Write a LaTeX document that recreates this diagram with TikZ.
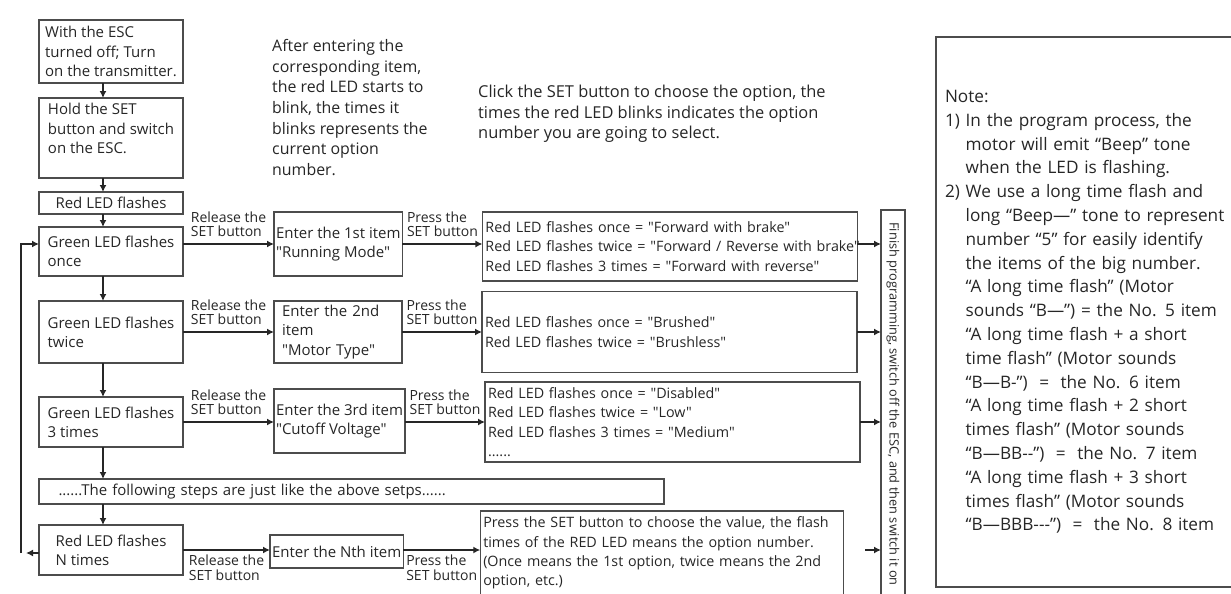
\documentclass[tikz,border=0pt]{standalone}
\usepackage{fontspec}
\setmainfont{Open Sans}
\newfontfamily\sansfam{Open Sans}
\usepackage{tikz}
\usetikzlibrary{positioning}
\usetikzlibrary{arrows.meta}
\newcommand\boxfont{\sansfam\fontsize{15}{19.3}\selectfont}
\newcommand\optfont{\sansfam\fontsize{14.3}{19.3}\selectfont}
\newcommand\arrfont{\sansfam\fontsize{14}{14.5}\selectfont}
\newcommand\topfont{\sansfam\fontsize{15.9}{20.7}\selectfont}
\newcommand\clickfont{\sansfam\fontsize{16.4}{20.5}\selectfont}
\newcommand\finfont{\sansfam\fontsize{12.8}{14}\selectfont}
\newcommand\notefont{\sansfam\fontsize{17.2}{23.8}\selectfont}
\tikzstyle{stepbox}=[draw=black!70,line width=1.2pt,outer sep=0pt,rectangle,align=left,minimum width=144pt,inner ysep=2pt,font=\boxfont]
\tikzstyle{itembox}=[draw=black!70,line width=1.2pt,outer sep=0pt,rectangle,align=left,minimum width=128pt,inner ysep=2pt,inner xsep=2pt,font=\boxfont]
\tikzstyle{optbox}=[draw=black!70,line width=1.2pt,outer sep=0pt,rectangle,align=left,text width=369pt,inner xsep=3pt,inner ysep=2pt,font=\optfont]
\tikzstyle{flow}=[->,>={Latex[length=7pt,width=7pt]},line width=2.4pt,draw=black!85]
\tikzstyle{lbl}=[font=\arrfont,align=left,inner sep=2pt]

\begin{document}
\begin{tikzpicture}[x=1pt,y=-1pt,text=black!85]
	\useasboundingbox (0,0) rectangle (1231,594);
	\node[stepbox,minimum height=63pt,anchor=north west] (start) at (39,20) {With the ESC\\turned off; Turn\\on the transmitter.};
	\node[stepbox,minimum height=80pt,below=15pt of start] (hold) {Hold the SET\\button and switch\\on the ESC.\\~};
	\node[stepbox,minimum height=22pt,inner ysep=0pt,below=14pt of hold] (redled) {Red LED flashes};
	\node[stepbox,minimum height=49pt,below=13pt of redled] (green1) {Green LED flashes\\once};
	\node[stepbox,minimum height=62pt,below=25pt of green1] (green2) {Green LED flashes\\twice};
	\node[stepbox,minimum height=50pt,below=34pt of green2] (green3) {Green LED flashes\\3 times};
	\node[stepbox,text width=586pt,inner xsep=19.5pt,minimum height=25pt,inner ysep=0pt,below right=32pt and 0pt of green3.south west] (following) {......The following steps are just like the above setps......};
	\node[stepbox,minimum height=50pt,below right=21pt and 0pt of following.south west] (redN) {Red LED flashes\\N times};
	
	\node[itembox,minimum height=64pt,right=91pt of green1,yshift=7.5pt] (item1) {Enter the 1st item\\"Running Mode"};
	\node[optbox,minimum height=69pt,right=80pt of item1,yshift=-2.5pt] (opt1) {Red LED flashes once = "Forward with brake"\\\mbox{Red LED flashes twice = "Forward / Reverse with brake"}\\Red LED flashes 3 times = "Forward with reverse"};
	\node[itembox,text width=112pt,inner xsep=8pt,minimum height=62pt,right=91pt of green2] (item2) {Enter the 2nd\\item\\"Motor Type"};
	\node[optbox,minimum height=81pt,right=80pt of item2] (opt2) {Red LED flashes once = "Brushed"\\Red LED flashes twice = "Brushless"};
	\node[itembox,minimum height=64pt,right=91pt of green3,yshift=1pt] (item3) {Enter the 3rd item\\"Cutoff Voltage"};
	\node[optbox,minimum height=80pt,right=80pt of item3,yshift=-1pt] (opt3) {Red LED flashes once = "Disabled"\\Red LED flashes twice = "Low"\\Red LED flashes 3 times = "Medium"\\......};
	\node[itembox,minimum height=33pt,right=87pt of redN,yshift=-1.5pt] (itemN) {Enter the Nth item};
	\node[optbox,text width=357pt,inner xsep=3pt,minimum height=84pt,right=77pt of itemN,yshift=-1.5pt] (optN) {\mbox{Press the SET button to choose the value, the flash}\\times of the RED LED means the option number.\\\mbox{(Once means the 1st option, twice means the 2nd}\\option, etc.)};
	\node[draw=black!70,line width=1.2pt,outer sep=0pt,rotate=-90,minimum width=388pt,minimum height=24pt,inner sep=0pt,font=\finfont] (finish) at (893,404) {Finish programming, switch off the ESC, and then switch it on};
	
	\node[align=left,anchor=north west,inner sep=0pt,font=\topfont] (hint) at (272,39) {After entering the\\corresponding item,\\the red LED starts to\\blink, the times it\\blinks represents the\\current option\\number.};
	\node[align=left,anchor=north west,inner sep=0pt,font=\clickfont] (click) at (478,85) {Click the SET button to choose the option, the\\times the red LED blinks indicates the option\\number you are going to select.};
	\node[draw=black!70,line width=1.2pt,outer sep=0pt,anchor=north west,text width=290pt,inner xsep=9pt,minimum height=550pt,align=left,font=\notefont] (note) at (936,37) {Note:\\1) In the program process, the\\\phantom{1)~}motor will emit “Beep” tone\\\phantom{1)~}when the LED is flashing.\\2) We use a long time flash and\\\phantom{2)~}long “Beep—” tone to represent\\\phantom{2)~}number “5” for easily identify\\\phantom{2)~}the items of the big number.\\\phantom{2)~}“A long time flash” (Motor\\\phantom{2)~}sounds “B—”) = the No. 5 item\\\phantom{2)~}“A long time flash + a short\\\phantom{2)~}time flash” (Motor sounds\\\phantom{2)~}“B—B-”) \ = \ the No. 6 item\\\phantom{2)~}“A long time flash + 2 short\\\phantom{2)~}times flash” (Motor sounds\\\phantom{2)~}“B—BB-{}-”) \ = \ the No. 7 item\\\phantom{2)~}“A long time flash + 3 short\\\phantom{2)~}times flash” (Motor sounds\\\phantom{2)~}“B—BBB-{}-{}-”) \ = \ the No. 8 item};
	
	\coordinate (col) at ([xshift=-8pt]start.south);
	\draw[flow] (start.south -| col) -- (hold.north -| col);
	\draw[flow] (hold.south -| col) -- (redled.north -| col);
	\draw[flow] (redled.south -| col) -- (green1.north -| col);
	\draw[flow] (green1.south -| col) -- (green2.north -| col);
	\draw[flow] (green2.south -| col) -- (green3.north -| col);
	\draw[flow] (green3.south -| col) -- (following.north -| col);
	\draw[flow] (following.south -| col) -- (redN.north -| col);
	
	\draw[flow] (green1.east |- item1.west) -- node[lbl,above,yshift=4pt] {Release the\\SET button} (item1.west);
	\draw[flow] (item1.east) -- node[lbl,above,yshift=4pt] {Press the\\SET button} (item1.east -| opt1.west);
	\draw[flow] (opt1.east |- item1.east) -- (finish.south |- item1.east);
	
	\draw[flow] (green2.east) -- node[lbl,above,yshift=4pt] {Release the\\SET button} (item2.west);
	\draw[flow] (item2.east) -- node[lbl,above,yshift=4pt] {Press the\\SET button} (opt2.west |- item2.east);
	\draw[flow] (opt2.east) -- (finish.south |- opt2.east);
	
	\draw[flow] (green3.east) -- node[lbl,above,yshift=4pt] {Release the\\SET button} (green3.east -| item3.west);
	\draw[flow] (item3.east |- green3.east) -- node[lbl,above,yshift=4pt] {Press the\\SET button} (opt3.west |- green3.east);
	\draw[flow] (opt3.east) -- (finish.south |- opt3.east);
	
	\draw[flow] (redN.east) -- node[lbl,below,yshift=-2pt] {Release the\\SET button} (redN.east -| itemN.west);
	\draw[flow] (itemN.east |- redN.east) -- node[lbl,below,yshift=-2pt] {Press the\\SET button} (optN.west |- redN.east);
	\path (optN.east |- redN.east) ++(22pt,0) coordinate (endN);
	\draw[flow] (endN) -- (finish.south |- endN);
	
	\path ([yshift=-3pt]redN.west) ++(-18pt,0) coordinate (back);
	\draw[flow] ([yshift=-3pt]redN.west) -- ([xshift=5pt]back);
	\draw[flow] (back) |- ([yshift=7.5pt]green1.west);
\end{tikzpicture}
\end{document}
